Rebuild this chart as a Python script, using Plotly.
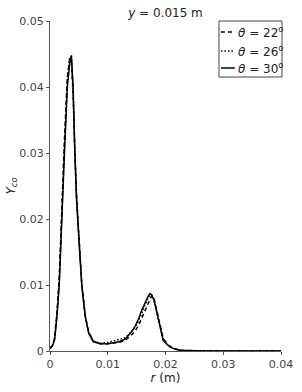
import plotly.graph_objects as go

r = [0, 0.0004, 0.0008, 0.0012, 0.0016, 0.002, 0.0025, 0.003, 0.0034, 0.0037,
     0.004, 0.0043, 0.0046, 0.005, 0.0055, 0.0061, 0.0067, 0.0075, 0.0087, 0.01,
     0.011, 0.012, 0.013, 0.0136, 0.0142, 0.0147, 0.0153, 0.0159, 0.0165, 0.017,
     0.0173, 0.0176, 0.018, 0.0185, 0.0191, 0.0196, 0.0205, 0.0213, 0.0225, 0.024,
     0.027, 0.03, 0.035, 0.04]

y_22 = [0.0004, 0.0008, 0.002, 0.0058, 0.011, 0.021, 0.032, 0.0415, 0.0442, 0.044,
        0.039, 0.0305, 0.0235, 0.0175, 0.0103, 0.0054, 0.0028, 0.0015, 0.0011, 0.0011,
        0.0012, 0.0013, 0.0016, 0.002, 0.0025, 0.003, 0.0038, 0.005, 0.0062, 0.0074,
        0.008, 0.0084, 0.008, 0.0062, 0.0038, 0.0019, 0.0009, 0.0004, 0.0001, 0.00003,
        0, 0, 0, 0]

y_26 = [0.0004, 0.0008, 0.0019, 0.0055, 0.0105, 0.0205, 0.031, 0.041, 0.0445, 0.0446,
        0.0395, 0.0302, 0.0232, 0.0172, 0.0101, 0.0053, 0.0028, 0.0015, 0.0012, 0.0013,
        0.0015, 0.0017, 0.002, 0.0025, 0.0031, 0.0036, 0.0045, 0.0058, 0.0071, 0.0081,
        0.0085, 0.0085, 0.0077, 0.006, 0.0036, 0.0017, 0.0008, 0.0004, 0.0001, 0.00003,
        0, 0, 0, 0]

y_30 = [0.0004, 0.0007, 0.0017, 0.0052, 0.01, 0.02, 0.03, 0.04, 0.0435, 0.0448,
        0.04, 0.03, 0.0229, 0.017, 0.01, 0.0052, 0.0027, 0.0014, 0.0011, 0.0011,
        0.0012, 0.0014, 0.0018, 0.0024, 0.003, 0.0037, 0.0048, 0.0062, 0.0075, 0.0083,
        0.0087, 0.0085, 0.0078, 0.0058, 0.0035, 0.0016, 0.0008, 0.0004, 0.0001, 0.00003,
        0, 0, 0, 0]

names = ["<i>θ</i> = 22<sup>o</sup>", "<i>θ</i> = 26<sup>o</sup>", "<i>θ</i> = 30<sup>o</sup>"]
x_ticks = [0, 0.01, 0.02, 0.03, 0.04]
x_tick_labels = ["0", "0.01", "0.02", "0.03", "0.04"]
y_ticks = [0, 0.01, 0.02, 0.03, 0.04, 0.05]
y_tick_labels = ["0", "0.01", "0.02", "0.03", "0.04", "0.05"]

FONT = "DejaVu Sans"
dashes = ["4px,3px", "1.5px,2px", "solid"]

fig = go.Figure()
for ys, nm, dash in zip([y_22, y_26, y_30], names, dashes):
    fig.add_trace(go.Scatter(x=r, y=ys, mode="lines", name=nm, showlegend=False,
                             line=dict(color="black", width=1.5, dash=dash)))

# compact legend box drawn like the reference
row_y = [0.9667, 0.9091, 0.8576]
fig.add_shape(type="rect", xref="paper", yref="paper", x0=0.7316, x1=1.0043, y0=0.8303, y1=1.0,
              line=dict(color="#444", width=1), fillcolor="white", layer="above")
for nm, dash, yy in zip(names, dashes, row_y):
    fig.add_shape(type="line", xref="paper", yref="paper", x0=0.740, x1=0.800, y0=yy, y1=yy,
                  line=dict(color="black", width=1.5, dash=dash), layer="above")
    fig.add_annotation(xref="paper", yref="paper", x=0.805, y=yy, xanchor="left", yanchor="middle",
                       text=nm, showarrow=False, font=dict(family=FONT, size=12, color="#222"))

axis_common = dict(showline=True, linecolor="#555", linewidth=1, ticks="outside",
                   ticklen=3, tickcolor="#555", showgrid=False, zeroline=False,
                   automargin=False,
                   tickfont=dict(family=FONT, size=11, color="#444"))
fig.update_layout(
    width=302, height=392,
    margin=dict(l=50, r=21, t=21, b=41),
    paper_bgcolor="white", plot_bgcolor="white",
    font=dict(family=FONT, color="#222"),
    title=dict(text="<i>y</i> = 0.015 m", x=0.548, xanchor="center", y=1 - 13 / 392, yanchor="middle",
               font=dict(family=FONT, size=12, color="#222")),
    xaxis=dict(range=[0, 0.04], tickvals=x_ticks, ticktext=x_tick_labels,
               title=dict(text="<i>r</i> (m)", standoff=2, font=dict(family=FONT, size=12, color="#222")),
               **axis_common),
    yaxis=dict(range=[0, 0.05], tickvals=y_ticks, ticktext=y_tick_labels,
               title=dict(text="<i>Y</i><sub><i>co</i></sub>", standoff=1, font=dict(family=FONT, size=12, color="#222")),
               **axis_common),
    showlegend=False,
)
fig.write_html("out.html", config={"displayModeBar": False},
               post_script="document.body.style.margin='0';document.body.style.overflow='hidden';")
